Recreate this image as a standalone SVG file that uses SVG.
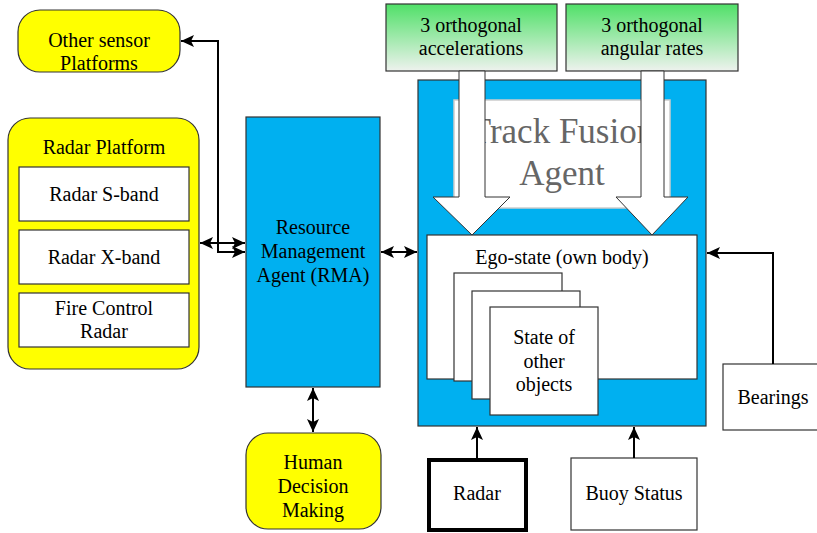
<svg xmlns="http://www.w3.org/2000/svg" width="817" height="533" viewBox="0 0 817 533">
<defs>
<linearGradient id="gr" x1="0" y1="0" x2="0" y2="1">
<stop offset="0" stop-color="#50e068"/>
<stop offset="1" stop-color="#eef2ee"/>
</linearGradient>
<marker id="ah" markerWidth="14" markerHeight="12" refX="13" refY="6" orient="auto-start-reverse" markerUnits="userSpaceOnUse">
<path d="M0,0 L13,6 L0,12 L3,6 Z" fill="#000"/>
</marker>
</defs>
<style>
text{font-family:'Liberation Serif','Times New Roman',serif;font-size:20px;fill:#000;text-anchor:middle}
.y{fill:#ffff00;stroke:#333;stroke-width:1.2}
.w{fill:#fff;stroke:#333;stroke-width:1.2}
.b{fill:#00b0f0;stroke:#333;stroke-width:1.2}
.g{fill:url(#gr);stroke:#333;stroke-width:1.2}
.c{fill:none;stroke:#000;stroke-width:2}
.ba{fill:#fff;stroke:#333;stroke-width:1}
.big{font-size:35px;fill:#666}
</style>
<g font-family="Liberation Serif, Times New Roman, serif">
<g id="other-sensor">
<rect class="y" x="18" y="10" width="162" height="62" rx="22"/>
<text x="99" y="47">Other sensor</text>
<text x="99" y="70">Platforms</text>
</g>
<g id="radar-platform">
<rect class="y" x="8" y="118" width="191" height="251" rx="22"/>
<text x="104" y="154">Radar Platform</text>
<rect class="w" x="19" y="167" width="170" height="54"/>
<text x="104" y="201">Radar S-band</text>
<rect class="w" x="19" y="230" width="170" height="54"/>
<text x="104" y="264">Radar X-band</text>
<rect class="w" x="19" y="293" width="170" height="54"/>
<text x="104" y="315">Fire Control</text>
<text x="104" y="338">Radar</text>
</g>
<g id="rma">
<rect class="b" x="246" y="117" width="134" height="270"/>
<text x="313" y="234">Resource</text>
<text x="313" y="258">Management</text>
<text x="313" y="282">Agent (RMA)</text>
</g>
<g id="human">
<rect class="y" x="246" y="433" width="135" height="96" rx="22"/>
<text x="313" y="469">Human</text>
<text x="313" y="493">Decision</text>
<text x="313" y="517">Making</text>
</g>
<g id="track-fusion">
<rect class="b" x="418" y="80" width="288" height="346"/>
<rect x="454" y="100" width="216" height="108" fill="#fff" stroke="#ccc" stroke-width="1.5"/>
<text class="big" x="562" y="143">Track Fusion</text>
<text class="big" x="562" y="185">Agent</text>
</g>
<g id="accelerations">
<rect class="g" x="386" y="4" width="171" height="67"/>
<text x="471" y="32">3 orthogonal</text>
<text x="471" y="55">accelerations</text>
</g>
<g id="angular-rates">
<rect class="g" x="566" y="4" width="172" height="67"/>
<text x="652" y="32">3 orthogonal</text>
<text x="652" y="55">angular rates</text>
</g>
<g id="block-arrows">
<path class="ba" d="M459,71 L485,71 L485,197 L510,197 L472,235 L433,197 L459,197 Z"/>
<path class="ba" d="M641,71 L664,71 L664,197 L688,197 L652,235 L616,197 L641,197 Z"/>
</g>
<g id="ego-state">
<rect class="w" x="427" y="235" width="270" height="144"/>
<text x="562" y="264">Ego-state (own body)</text>
</g>
<g id="other-objects">
<rect class="w" x="454" y="273" width="108" height="108"/>
<rect class="w" x="472" y="291" width="108" height="108"/>
<rect class="w" x="490" y="307" width="108" height="108"/>
<text x="544" y="344">State of</text>
<text x="544" y="368">other</text>
<text x="544" y="391">objects</text>
</g>
<g id="bearings">
<rect class="w" x="723" y="364" width="100" height="66"/>
<text x="773" y="404">Bearings</text>
</g>
<g id="radar">
<rect x="429" y="460" width="97" height="70" fill="#fff" stroke="#000" stroke-width="4"/>
<text x="477" y="500">Radar</text>
</g>
<g id="buoy">
<rect class="w" x="571" y="458" width="126" height="72"/>
<text x="634" y="500">Buoy Status</text>
</g>
</g>
<g id="connectors">
<path class="c" d="M245,252 L218,252 L218,41 L181,41" marker-start="url(#ah)" marker-end="url(#ah)"/>
<path class="c" d="M200,243 L245,243" marker-start="url(#ah)" marker-end="url(#ah)"/>
<path class="c" d="M381,252 L417,252" marker-start="url(#ah)" marker-end="url(#ah)"/>
<path class="c" d="M313,388 L313,432" marker-start="url(#ah)" marker-end="url(#ah)"/>
<path class="c" d="M773,364 L773,253 L707,253" marker-end="url(#ah)"/>
<path class="c" d="M477,458 L477,427" marker-end="url(#ah)"/>
<path class="c" d="M634,458 L634,427" marker-end="url(#ah)"/>
</g>
</svg>
